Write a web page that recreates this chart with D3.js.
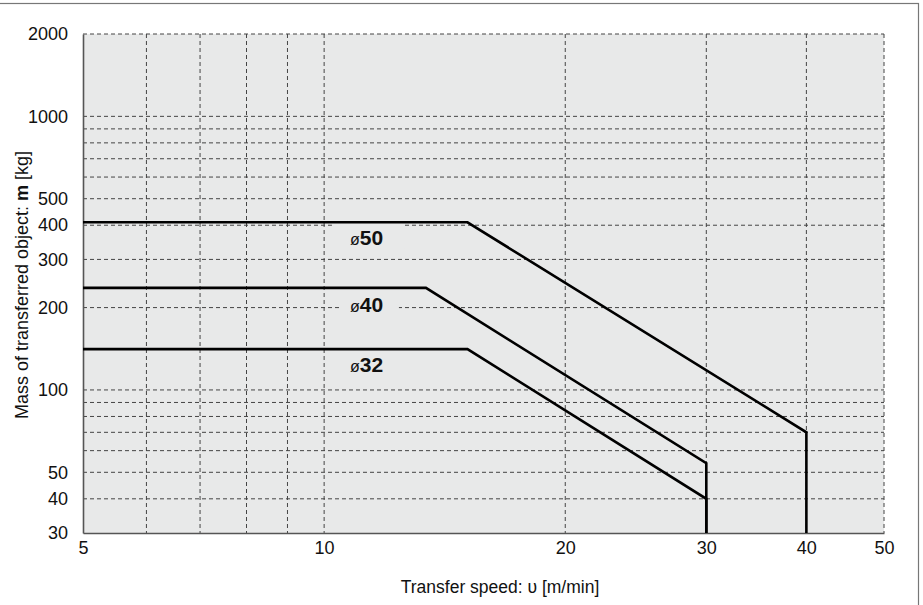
<!DOCTYPE html>
<html>
<head>
<meta charset="utf-8">
<script src="https://cdn.jsdelivr.net/npm/d3@7"></script>
<style>
  body { margin: 0; background: #fff; }
  svg { display: block; font-family: "Liberation Sans", Arial, sans-serif; }
</style>
</head>
<body>
<div id="chart"></div>
<script>
// ---- data ----
const xTicks = [5, 10, 20, 30, 40, 50];
const yTicks = [30, 40, 50, 100, 200, 300, 400, 500, 1000, 2000];
const xGrid = [6, 7, 8, 9, 10, 20, 30, 40, 50];
const yGrid = [40, 50, 60, 70, 80, 90, 100, 200, 300, 400, 500, 600, 700, 800, 900, 1000, 2000];

const seriesNames = ['ø50', 'ø40', 'ø32'];
// speed [m/min], mass [kg]
const speed50 = [5, 15.1, 40, 40];
const mass50  = [410, 410, 70, 30];
const speed40 = [5, 13.4, 30, 30];
const mass40  = [236, 236, 54, 30];
const speed32 = [5, 15.1, 30, 30];
const mass32  = [141, 141, 40, 30];
// label anchor (speed, mass) = left end / baseline of the text
const labelSpeed = [10.77, 10.77, 10.77];
const labelMass  = [339, 193, 116.5];

// ---- layout ----
const W = 923, H = 605;
const margin = { top: 34, right: 39, bottom: 72, left: 83 };
const iw = W - margin.left - margin.right;
const ih = H - margin.top - margin.bottom;
const FONT = '"Liberation Sans", Arial, sans-serif';

const svg = d3.select('#chart').append('svg')
  .attr('width', W).attr('height', H);

// outer frame (partly cropped in the original)
svg.append('rect')
  .attr('x', -2).attr('y', 3.5).attr('width', 920.5).attr('height', 610)
  .attr('fill', 'none').attr('stroke', '#777').attr('stroke-width', 1.2);

const g = svg.append('g').attr('transform', `translate(${margin.left},${margin.top})`);

const x = d3.scaleLog().domain([5, 50]).range([0, iw]);
const y = d3.scaleLog().domain([30, 2000]).range([ih, 0]);

g.append('rect').attr('width', iw).attr('height', ih).attr('fill', '#e8e9e9');

// grid
g.selectAll('.vgrid').data(xGrid).join('line')
  .attr('x1', d => x(d)).attr('x2', d => x(d))
  .attr('y1', 0).attr('y2', ih)
  .attr('stroke', '#444').attr('stroke-width', 1).attr('stroke-dasharray', '4,3');
g.selectAll('.hgrid').data(yGrid).join('line')
  .attr('y1', d => y(d)).attr('y2', d => y(d))
  .attr('x1', 0).attr('x2', iw)
  .attr('stroke', '#444').attr('stroke-width', 1).attr('stroke-dasharray', '4,3');

// label backgrounds hide the grid behind the text
const bgPad = [[18, 55], [10, 49], [10, 49]];
seriesNames.forEach((name, i) => {
  const px = x(labelSpeed[i]), py = y(labelMass[i]);
  g.append('rect')
    .attr('x', px - bgPad[i][0]).attr('y', py - 21)
    .attr('width', bgPad[i][0] + bgPad[i][1]).attr('height', 25)
    .attr('fill', '#e8e9e9');
});

// axes
const xAxis = g.append('g').attr('transform', `translate(0,${ih})`)
  .call(d3.axisBottom(x).tickValues(xTicks).tickFormat(d3.format('d')).tickSize(0).tickPadding(8));
const yAxis = g.append('g')
  .call(d3.axisLeft(y).tickValues(yTicks).tickFormat(d3.format('d')).tickSize(0).tickPadding(15));
[xAxis, yAxis].forEach(a => {
  a.select('.domain').attr('stroke', '#555').attr('stroke-width', 1.6);
  a.selectAll('text').attr('font-size', 18).attr('fill', '#111').attr('font-family', FONT);
});

// curves
const allSeries = [
  speed50.map((v, i) => [v, mass50[i]]),
  speed40.map((v, i) => [v, mass40[i]]),
  speed32.map((v, i) => [v, mass32[i]])
];
const line = d3.line().x(d => x(d[0])).y(d => y(d[1]));
g.selectAll('.curve').data(allSeries).join('path')
  .attr('d', line).attr('fill', 'none')
  .attr('stroke', '#000').attr('stroke-width', 2.6).attr('stroke-linejoin', 'miter');

// labels
seriesNames.forEach((name, i) => {
  const t = g.append('text')
    .attr('x', x(labelSpeed[i])).attr('y', y(labelMass[i])).attr('fill', '#111');
  t.append('tspan').attr('font-size', 16).text(name.slice(0, 1));
  t.append('tspan').attr('font-size', 21).attr('font-weight', 'bold').text(name.slice(1));
});

// axis titles
svg.append('text')
  .attr('x', 500).attr('y', 593).attr('text-anchor', 'middle')
  .attr('font-size', 17.5).attr('fill', '#111')
  .text('Transfer speed: υ [m/min]');

const yt = svg.append('text')
  .attr('transform', 'translate(28,285) rotate(-90)')
  .attr('text-anchor', 'middle').attr('font-size', 18).attr('fill', '#111');
yt.append('tspan').text('Mass of transferred object: ');
yt.append('tspan').attr('font-weight', 'bold').text('m');
yt.append('tspan').text(' [kg]');
</script>
</body>
</html>
